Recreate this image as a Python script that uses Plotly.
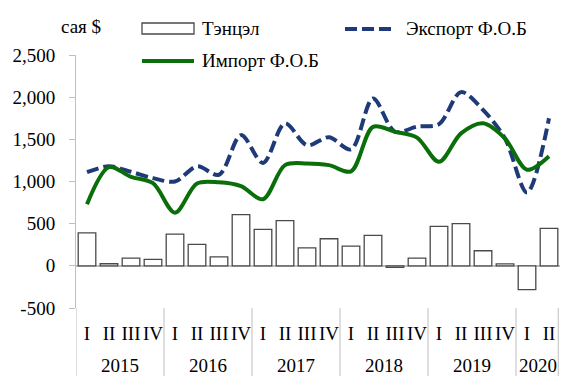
import plotly.graph_objects as go

# Quarterly foreign trade, million USD
years = ["2015"] * 4 + ["2016"] * 4 + ["2017"] * 4 + ["2018"] * 4 + ["2019"] * 4 + ["2020"] * 2
quarters = ["I", "II", "III", "IV"] * 5 + ["I", "II"]

balance = [390, 25, 92, 76, 377, 255, 107, 607, 433, 536, 214, 321,
           234, 362, -19, 92, 469, 500, 179, 24, -281, 445]
exports = [1110, 1180, 1115, 1040, 1000, 1180, 1080, 1550, 1220, 1690, 1430, 1525,
           1380, 1985, 1590, 1650, 1680, 2060, 1850, 1510, 870, 1750]
imports = [730, 1170, 1056, 980, 630, 977, 990, 945, 790, 1194, 1214, 1194,
           1120, 1648, 1589, 1520, 1233, 1570, 1690, 1510, 1140, 1300]

y_ticks = [-500, 0, 500, 1000, 1500, 2000, 2500]
y_tick_text = ["-500", "0", "500", "1,000", "1,500", "2,000", "2,500"]

names = ["Тэнцэл", "Экспорт Ф.О.Б", "Импорт Ф.О.Б"]
bar_fill, bar_edge = "white", "#4A4A4A"
export_color, import_color = "#1F3A78", "#0A6E0A"
axis_gray = "#BFBFBF"

FONT = "Times New Roman, Liberation Serif, serif"

W, H = 561, 376
L, R, T, B = 76, 1, 55, 68
pw, ph = W - L - R, H - T - B


def px(xp):
    return (xp - L) / pw


def py(yp):
    return (H - B - yp) / ph


# one unique category per quarter, labelled with the quarter numeral
cats = [f"{y} {q}" for y, q in zip(years, quarters)]
n = len(cats)

fig = go.Figure()
fig.add_trace(go.Bar(
    x=cats, y=balance, name=names[0],
    marker=dict(color=bar_fill, line=dict(color=bar_edge, width=1.3)),
))
fig.add_trace(go.Scatter(
    x=cats, y=exports, name=names[1], mode="lines",
    line=dict(color=export_color, width=4, dash="12px,5px", shape="spline", smoothing=0.9),
))
fig.add_trace(go.Scatter(
    x=cats, y=imports, name=names[2], mode="lines",
    line=dict(color=import_color, width=4, shape="spline", smoothing=0.9),
))

# year groups: label centred under each group, separators between groups
groups = []
for i, y in enumerate(years):
    if not groups or groups[-1][0] != y:
        groups.append([y, i, i])
    else:
        groups[-1][2] = i

shapes = []
annotations = []
bottom = py(H)
for k, (y, i0, i1) in enumerate(groups):
    annotations.append(dict(
        text=y, xref="x", yref="paper", x=(i0 + i1) / 2, y=py(365),
        xanchor="center", yanchor="middle", showarrow=False, font=dict(size=19),
    ))
    shapes.append(dict(type="line", xref="x", yref="paper",
                       x0=i0 - 0.5, x1=i0 - 0.5, y0=0, y1=bottom,
                       line=dict(color=axis_gray, width=1)))
shapes.append(dict(type="line", xref="x", yref="paper",
                   x0=n - 0.5 - 0.08, x1=n - 0.5 - 0.08, y0=0, y1=bottom,
                   line=dict(color=axis_gray, width=1)))

# legend keys drawn above the plot area
shapes += [
    dict(type="rect", xref="paper", yref="paper",
         x0=px(142), x1=px(194), y0=py(34), y1=py(23),
         fillcolor=bar_fill, line=dict(color=bar_edge, width=1.3)),
    dict(type="line", xref="paper", yref="paper",
         x0=px(345), x1=px(394), y0=py(29), y1=py(29),
         line=dict(color=export_color, width=4, dash="12px,5px")),
    dict(type="line", xref="paper", yref="paper",
         x0=px(142), x1=px(194), y0=py(61), y1=py(61),
         line=dict(color=import_color, width=4)),
]
legend_text = [
    (names[0], 200, 29),
    (names[1], 404, 29),
    (names[2], 200, 61),
]
annotations += [
    dict(text=t, xref="paper", yref="paper", x=px(xx), y=py(yy),
         xanchor="left", yanchor="middle", showarrow=False, font=dict(size=19))
    for t, xx, yy in legend_text
]
annotations.append(dict(
    text="сая $", xref="paper", yref="paper", x=px(81), y=py(26),
    xanchor="center", yanchor="middle", showarrow=False, font=dict(size=19),
))

fig.update_layout(
    width=W, height=H,
    margin=dict(l=L, r=R, t=T, b=B),
    paper_bgcolor="white", plot_bgcolor="white",
    font=dict(family=FONT, size=19, color="black"),
    bargap=0.2,
    showlegend=False,
    shapes=shapes,
    annotations=annotations,
)

fig.update_xaxes(
    type="category", range=[-0.5, n - 0.5],
    tickmode="array", tickvals=cats, ticktext=quarters,
    showline=False, showgrid=False, ticks="", tickangle=0,
    ticklabelstandoff=12, tickfont=dict(family=FONT, size=19),
)
fig.update_yaxes(
    range=[-500, 2500], tickvals=y_ticks, ticktext=y_tick_text,
    showgrid=False, showline=True, linecolor=axis_gray, linewidth=1,
    ticks="outside", ticklen=6, tickcolor=axis_gray,
    zeroline=True, zerolinecolor=axis_gray, zerolinewidth=1.5,
    ticklabelstandoff=10, tickfont=dict(family=FONT, size=19),
)

fig.write_html("out.html")
